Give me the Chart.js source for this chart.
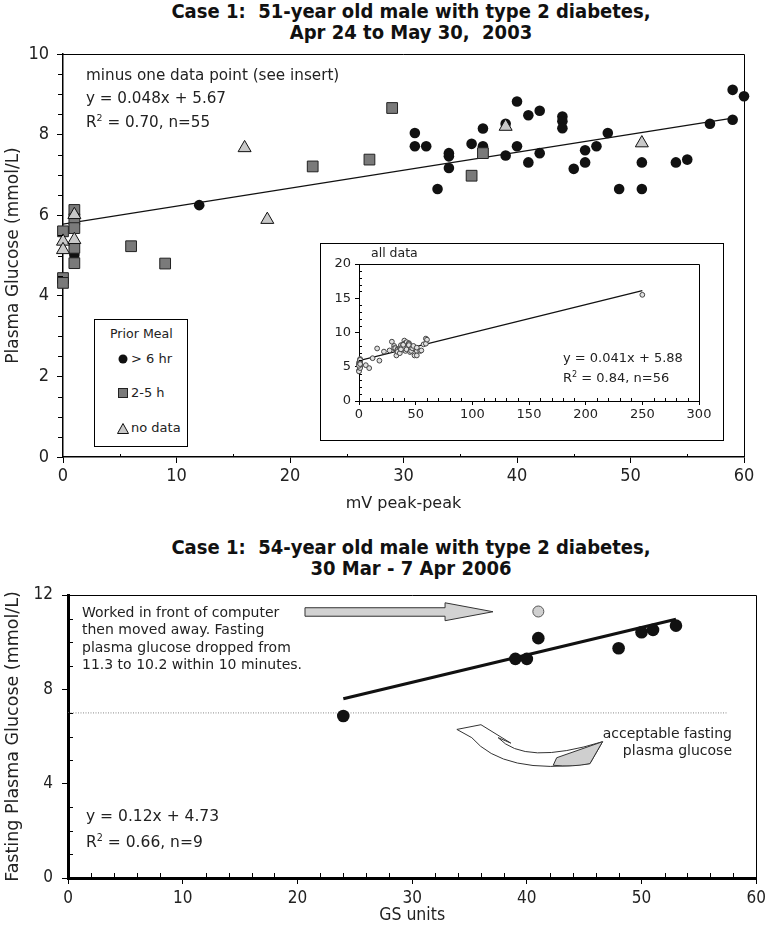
<!DOCTYPE html>
<html><head><meta charset="utf-8">
<script src="https://cdn.jsdelivr.net/npm/chart.js@4.4.1/dist/chart.umd.min.js"></script>
<style>
html,body{margin:0;padding:0;background:#fff;}
body{width:770px;height:934px;position:relative;overflow:hidden;font-family:'DejaVu Sans',sans-serif;color:#222;}
canvas{position:absolute;}
.t{position:absolute;white-space:nowrap;}
.title{position:absolute;left:0;width:822px;text-align:center;font-family:'DejaVu Sans Condensed','DejaVu Sans',sans-serif;font-weight:bold;font-size:20px;line-height:20.5px;color:#111;white-space:pre;}
sup{font-size:0.62em;vertical-align:0.6em;line-height:0;}
#inbox{position:absolute;left:320px;top:243px;width:404px;height:198px;border:1px solid #000;box-sizing:border-box;background:#fff;}
#legend{position:absolute;left:94px;top:319px;width:94px;height:128px;border:1px solid #000;box-sizing:border-box;background:#fff;font-size:13px;}
#legend .t{line-height:15px;}
</style></head><body>

<div class="title" style="top:1px">Case 1:  51-year old male with type 2 diabetes,
Apr 24 to May 30,  2003</div>
<div class="title" style="top:537px">Case 1:  54-year old male with type 2 diabetes,
30 Mar - 7 Apr 2006</div>

<canvas id="c1" width="770" height="520" style="left:0;top:0"></canvas>
<div id="inbox"></div>
<canvas id="c2" width="402" height="196" style="left:321px;top:244px"></canvas>
<canvas id="c3" width="770" height="414" style="left:0;top:520px"></canvas>

<div class="t" style="left:86px;top:66px;font-size:15.2px;line-height:18px">minus one data point (see insert)</div>
<div class="t" style="left:86px;top:89px;font-size:15.2px;line-height:18px">y = 0.048x + 5.67</div>
<div class="t" style="left:86px;top:113px;font-size:15.2px;line-height:18px">R<sup>2</sup> = 0.70, n=55</div>

<div class="t" style="left:371px;top:246px;font-size:12.5px;line-height:14px">all data</div>
<div class="t" style="left:563px;top:350px;font-size:13px;line-height:16px">y = 0.041x + 5.88</div>
<div class="t" style="left:563px;top:370px;font-size:13px;line-height:16px">R<sup>2</sup> = 0.84, n=56</div>

<div id="legend">
  <div class="t" style="left:15px;top:6px;font-size:12.6px">Prior Meal</div>
  <svg class="t" style="left:22px;top:33px" width="12" height="12"><circle cx="6" cy="6" r="4.5" fill="#111"/></svg>
  <div class="t" style="left:36px;top:31px">&gt; 6 hr</div>
  <svg class="t" style="left:22px;top:67px" width="12" height="12"><rect x="1.5" y="1.5" width="9" height="9" fill="#7a7a7a" stroke="#222" stroke-width="1"/></svg>
  <div class="t" style="left:36px;top:65px">2-5 h</div>
  <svg class="t" style="left:21px;top:102px" width="14" height="13"><polygon points="7,1.5 12.5,11.5 1.5,11.5" fill="#c8c8c8" stroke="#111" stroke-width="1"/></svg>
  <div class="t" style="left:36px;top:100px">no data</div>
</div>

<div class="t" style="left:82px;top:604px;font-size:14px;line-height:17.3px">Worked in front of computer<br>then moved away. Fasting<br>plasma glucose dropped from<br>11.3 to 10.2 within 10 minutes.</div>
<div class="t" style="left:540px;top:725px;width:192px;text-align:right;font-size:14px;line-height:17.4px">acceptable fasting<br>plasma glucose</div>
<div class="t" style="left:86px;top:807px;font-size:15.5px;line-height:19px">y = 0.12x + 4.73</div>
<div class="t" style="left:86px;top:833px;font-size:15.5px;line-height:19px">R<sup>2</sup> = 0.66, n=9</div>

<script>
// ---------- Top chart data (mV peak-peak vs plasma glucose) ----------
const circX = [12, 1, 31, 31, 32, 33, 34, 34, 34, 36, 37, 37, 39, 39, 40, 40, 41, 41, 42, 42, 44, 44, 44, 45, 46, 46, 47, 48, 49, 51, 51, 54, 55, 57, 59, 59, 60];
const circY = [6.25, 5.02, 8.04, 7.71, 7.71, 6.65, 7.54, 7.46, 7.17, 7.77, 8.15, 7.71, 8.27, 7.48, 8.82, 7.71, 8.48, 7.31, 8.59, 7.54, 8.45, 8.33, 8.16, 7.15, 7.61, 7.31, 7.71, 8.04, 6.65, 7.31, 6.65, 7.31, 7.38, 8.27, 9.11, 8.37, 8.95];
const sqX = [0, 0, 0, 1, 1, 1, 1, 1, 6, 9, 22, 27, 29, 36, 37];
const sqY = [5.6, 4.44, 4.32, 6.13, 5.9, 5.68, 5.19, 4.81, 5.23, 4.8, 7.21, 7.38, 8.66, 6.98, 7.54];
const triX = [0, 0, 1, 1, 16, 18, 39, 51];
const triY = [5.35, 5.14, 6.01, 5.39, 7.67, 5.89, 8.2, 7.79];
const fitX = [0, 59];
const fitY = [5.78, 8.41];
const xTicksTop = [0, 10, 20, 30, 40, 50, 60];
const yTicksTop = [0, 2, 4, 6, 8, 10];

// ---------- Inset (all data) ----------
const outX = [250];
const outY = [15.5];
const insFitX = [0, 250];
const insFitY = [5.9, 16.1];
const xTicksIns = [0, 50, 100, 150, 200, 250, 300];
const yTicksIns = [0, 5, 10, 15, 20];

// ---------- Bottom chart (GS units vs fasting plasma glucose) ----------
const gsX = [24, 39, 40, 41, 48, 50, 51, 53];
const gsY = [6.87, 9.29, 9.29, 10.17, 9.74, 10.42, 10.52, 10.7];
const beforeX = [41];
const beforeY = [11.3];
const fit2X = [24, 53];
const fit2Y = [7.6, 10.97];
const refX = [0, 57.5];
const refY = [7, 7];
const xTicksBot = [0, 10, 20, 30, 40, 50, 60];
const yTicksBot = [0, 4, 8, 12];

// annotation arrow outline (data units)
const arrowX = [20.66, 32.87, 32.87, 37.05, 32.87, 32.87, 20.66];
const arrowY = [11.46, 11.46, 11.67, 11.29, 10.91, 11.10, 11.10];

const pts = (xs, ys) => xs.map((x, i) => ({x: x, y: ys[i]}));
const COND = "'DejaVu Sans Condensed','DejaVu Sans',sans-serif";
const SANS = "'DejaVu Sans',sans-serif";
Chart.defaults.font.family = SANS;
Chart.defaults.color = '#222';

const setTicks = arr => (s => { s.ticks = arr.map(v => ({value: v})); });

const frame = {
  id: 'frame',
  beforeDatasetsDraw(chart) {
    const {ctx, chartArea: ca} = chart;
    ctx.save(); ctx.strokeStyle = '#000'; ctx.lineWidth = 1;
    ctx.beginPath();
    ctx.moveTo(ca.left, Math.round(ca.top) + 0.5);
    ctx.lineTo(Math.round(ca.right) + 0.5, Math.round(ca.top) + 0.5);
    ctx.lineTo(Math.round(ca.right) + 0.5, ca.bottom);
    ctx.stroke(); ctx.restore();
  }
};
const minorTicks = {
  id: 'minorTicks',
  afterDraw(chart, args, opts) {
    const {ctx, chartArea: ca} = chart;
    (opts.list || []).forEach(m => {
      const s = chart.scales[m.scale];
      ctx.save(); ctx.strokeStyle = '#000'; ctx.lineWidth = 1; ctx.beginPath();
      const n = Math.round((s.max - s.min) / m.step);
      for (let i = 0; i <= n; i++) {
        const v = s.min + i * m.step;
        if (m.skip && Math.abs(v / m.skip - Math.round(v / m.skip)) < 1e-6) continue;
        const p = Math.round(s.getPixelForValue(v)) + 0.5;
        if (s.isHorizontal()) {
          const y0 = ca.bottom; ctx.moveTo(p, y0); ctx.lineTo(p, m.inward ? y0 - m.len : y0 + m.len);
        } else {
          const x0 = ca.left; ctx.moveTo(x0, p); ctx.lineTo(m.inward ? x0 + m.len : x0 - m.len, p);
        }
      }
      ctx.stroke(); ctx.restore();
    });
  }
};
const arrows = {
  id: 'arrows',
  beforeDatasetsDraw(chart) {
    const {ctx, scales: {x, y}} = chart;
    const P = (a, b) => [x.getPixelForValue(a), y.getPixelForValue(b)];
    ctx.save();
    ctx.beginPath();
    arrowX.forEach((a, i) => { const [px, py] = P(a, arrowY[i]); i ? ctx.lineTo(px, py) : ctx.moveTo(px, py); });
    ctx.closePath();
    ctx.fillStyle = '#d2d2d2'; ctx.fill();
    ctx.strokeStyle = '#333'; ctx.lineWidth = 1; ctx.stroke();
    // curved arrow pointing up to the acceptable level
    const tip = P(33.9, 6.3), bu = P(36.0, 6.5), bl = P(38.6, 5.72), neck = P(37.5, 5.95);
    const ic = P(39.8, 4.75), tt = P(46.6, 5.78), te = P(45.5, 4.85), oc = P(38.0, 4.35), oe = P(35.2, 5.95);
    ctx.beginPath();
    ctx.moveTo(...tip); ctx.lineTo(...bu); ctx.lineTo(...bl); ctx.lineTo(...neck);
    ctx.quadraticCurveTo(ic[0], ic[1], tt[0], tt[1]);
    ctx.lineTo(...te);
    ctx.quadraticCurveTo(oc[0], oc[1], oe[0], oe[1]);
    ctx.closePath();
    ctx.fillStyle = '#fff'; ctx.fill(); ctx.stroke();
    const g1 = P(42.6, 5.1), g2 = P(46.6, 5.78), g3 = P(45.5, 4.85), gc = P(44.0, 4.7), g4 = P(42.3, 4.78);
    ctx.beginPath(); ctx.moveTo(...g1); ctx.lineTo(...g2); ctx.lineTo(...g3); ctx.quadraticCurveTo(gc[0], gc[1], g4[0], g4[1]); ctx.closePath();
    ctx.fillStyle = '#cfcfcf'; ctx.fill(); ctx.stroke();
    ctx.restore();
  }
};
Chart.register(frame, minorTicks);

const baseOpts = () => ({responsive: false, animation: false, events: [], devicePixelRatio: 1});

// ---------- Top chart ----------
new Chart(document.getElementById('c1'), {
  type: 'scatter',
  data: {datasets: [
    {label: 'no data', data: pts(triX, triY), clip: false, pointStyle: 'triangle', pointRadius: 7.5, pointBackgroundColor: '#c8c8c8', pointBorderColor: '#111', pointBorderWidth: 1, order: 1},
    {label: '2-5 h', data: pts(sqX, sqY), clip: false, pointStyle: 'rect', pointRadius: 7.6, pointBackgroundColor: '#7a7a7a', pointBorderColor: '#222', pointBorderWidth: 1, order: 2},
    {label: '> 6 hr', data: pts(circX, circY), clip: false, pointStyle: 'circle', pointRadius: 5.3, pointBackgroundColor: '#111', pointBorderColor: '#111', pointBorderWidth: 0, order: 3},
    {label: 'fit', data: pts(fitX, fitY), showLine: true, borderColor: '#111', borderWidth: 1.3, pointRadius: 0, order: 4}
  ]},
  options: Object.assign(baseOpts(), {
    layout: {padding: {top: 54, right: 26, left: 0, bottom: 0}},
    plugins: {legend: {display: false}, tooltip: {enabled: false},
      minorTicks: {list: [{scale: 'x', step: 5, skip: 10, len: 3, inward: true}, {scale: 'y', step: 0.5, skip: 2, len: 5, inward: false}]}},
    scales: {
      x: {type: 'linear', min: 0, max: 60, afterBuildTicks: setTicks(xTicksTop), afterFit: s => { s.height = 63; },
        grid: {drawOnChartArea: false, tickLength: 6, color: '#000'}, border: {color: '#000', width: 1.5},
        ticks: {font: {size: 18, family: COND}, color: '#222', padding: 3, maxRotation: 0},
        title: {display: true, text: 'mV peak-peak', font: {size: 16, family: SANS}, color: '#222', padding: {top: 0, bottom: 7}}},
      y: {type: 'linear', min: 0, max: 10, afterBuildTicks: setTicks(yTicksTop), afterFit: s => { s.width = 63; },
        grid: {drawOnChartArea: false, tickLength: 6, color: '#000'}, border: {color: '#000', width: 1.5},
        ticks: {font: {size: 18, family: COND}, color: '#222', padding: 8},
        title: {display: true, text: 'Plasma Glucose (mmol/L)', font: {size: 17, family: SANS}, color: '#222', padding: {top: 3, bottom: 0}}}
    }
  })
});

// ---------- Inset chart ----------
new Chart(document.getElementById('c2'), {
  type: 'scatter',
  data: {datasets: [
    {label: 'all data', data: pts(circX.concat(sqX, triX, outX), circY.concat(sqY, triY, outY)), clip: false, pointStyle: 'circle', pointRadius: 2.4, pointBackgroundColor: '#e0e0e0', pointBorderColor: '#444', pointBorderWidth: 1, order: 1},
    {label: 'fit', data: pts(insFitX, insFitY), showLine: true, borderColor: '#111', borderWidth: 1.3, pointRadius: 0, order: 2}
  ]},
  options: Object.assign(baseOpts(), {
    layout: {padding: {top: 20, right: 24, left: 0, bottom: 0}},
    plugins: {legend: {display: false}, tooltip: {enabled: false},
      minorTicks: {list: [{scale: 'x', step: 10, skip: 50, len: 3, inward: true}, {scale: 'y', step: 1, skip: 5, len: 3, inward: true}]}},
    scales: {
      x: {type: 'linear', min: 0, max: 300, afterBuildTicks: setTicks(xTicksIns), afterFit: s => { s.height = 39; },
        grid: {drawOnChartArea: false, tickLength: 4, color: '#000'}, border: {color: '#000', width: 1},
        ticks: {font: {size: 13, family: SANS}, color: '#222', padding: 2, maxRotation: 0}},
      y: {type: 'linear', min: 0, max: 20, afterBuildTicks: setTicks(yTicksIns), afterFit: s => { s.width = 38; },
        grid: {drawOnChartArea: false, tickLength: 4, color: '#000'}, border: {color: '#000', width: 1},
        ticks: {font: {size: 13, family: SANS}, color: '#222', padding: 4}}
    }
  })
});

// ---------- Bottom chart ----------
new Chart(document.getElementById('c3'), {
  type: 'scatter',
  plugins: [arrows],
  data: {datasets: [
    {label: 'before moving', data: pts(beforeX, beforeY), clip: false, pointStyle: 'circle', pointRadius: 5.5, pointBackgroundColor: '#d0d0d0', pointBorderColor: '#555', pointBorderWidth: 1, order: 1},
    {label: 'fasting', data: pts(gsX, gsY), clip: false, pointStyle: 'circle', pointRadius: 6.3, pointBackgroundColor: '#111', pointBorderColor: '#111', pointBorderWidth: 0, order: 2},
    {label: 'fit', data: pts(fit2X, fit2Y), showLine: true, borderColor: '#111', borderWidth: 3.2, pointRadius: 0, order: 3},
    {label: 'acceptable', data: pts(refX, refY), showLine: true, borderColor: '#8a8a8a', borderWidth: 1, borderDash: [1, 1.5], pointRadius: 0, order: 4}
  ]},
  options: Object.assign(baseOpts(), {
    layout: {padding: {top: 75, right: 13, left: 0, bottom: 0}},
    plugins: {legend: {display: false}, tooltip: {enabled: false},
      minorTicks: {list: [{scale: 'x', step: 2, skip: 10, len: 5, inward: true}, {scale: 'y', step: 1, skip: 4, len: 5, inward: true}]}},
    scales: {
      x: {type: 'linear', min: 0, max: 60, afterBuildTicks: setTicks(xTicksBot), afterFit: s => { s.height = 56; },
        grid: {drawOnChartArea: false, tickLength: 6, color: '#000'}, border: {color: '#000', width: 3},
        ticks: {font: {size: 17, family: COND}, color: '#222', padding: 4, maxRotation: 0},
        title: {display: true, text: 'GS units', font: {size: 17.5, family: COND}, color: '#222', padding: {top: 0, bottom: 8}}},
      y: {type: 'linear', min: 0, max: 12, afterBuildTicks: setTicks(yTicksBot), afterFit: s => { s.width = 68; },
        grid: {drawOnChartArea: false, tickLength: 6, color: '#000'}, border: {color: '#000', width: 3},
        ticks: {font: {size: 17, family: COND}, color: '#222', padding: 9},
        title: {display: true, text: 'Fasting Plasma Glucose (mmol/L)', font: {size: 17.5, family: SANS}, color: '#222', padding: {top: 3, bottom: 0}}}
    }
  })
});
</script>
</body></html>
